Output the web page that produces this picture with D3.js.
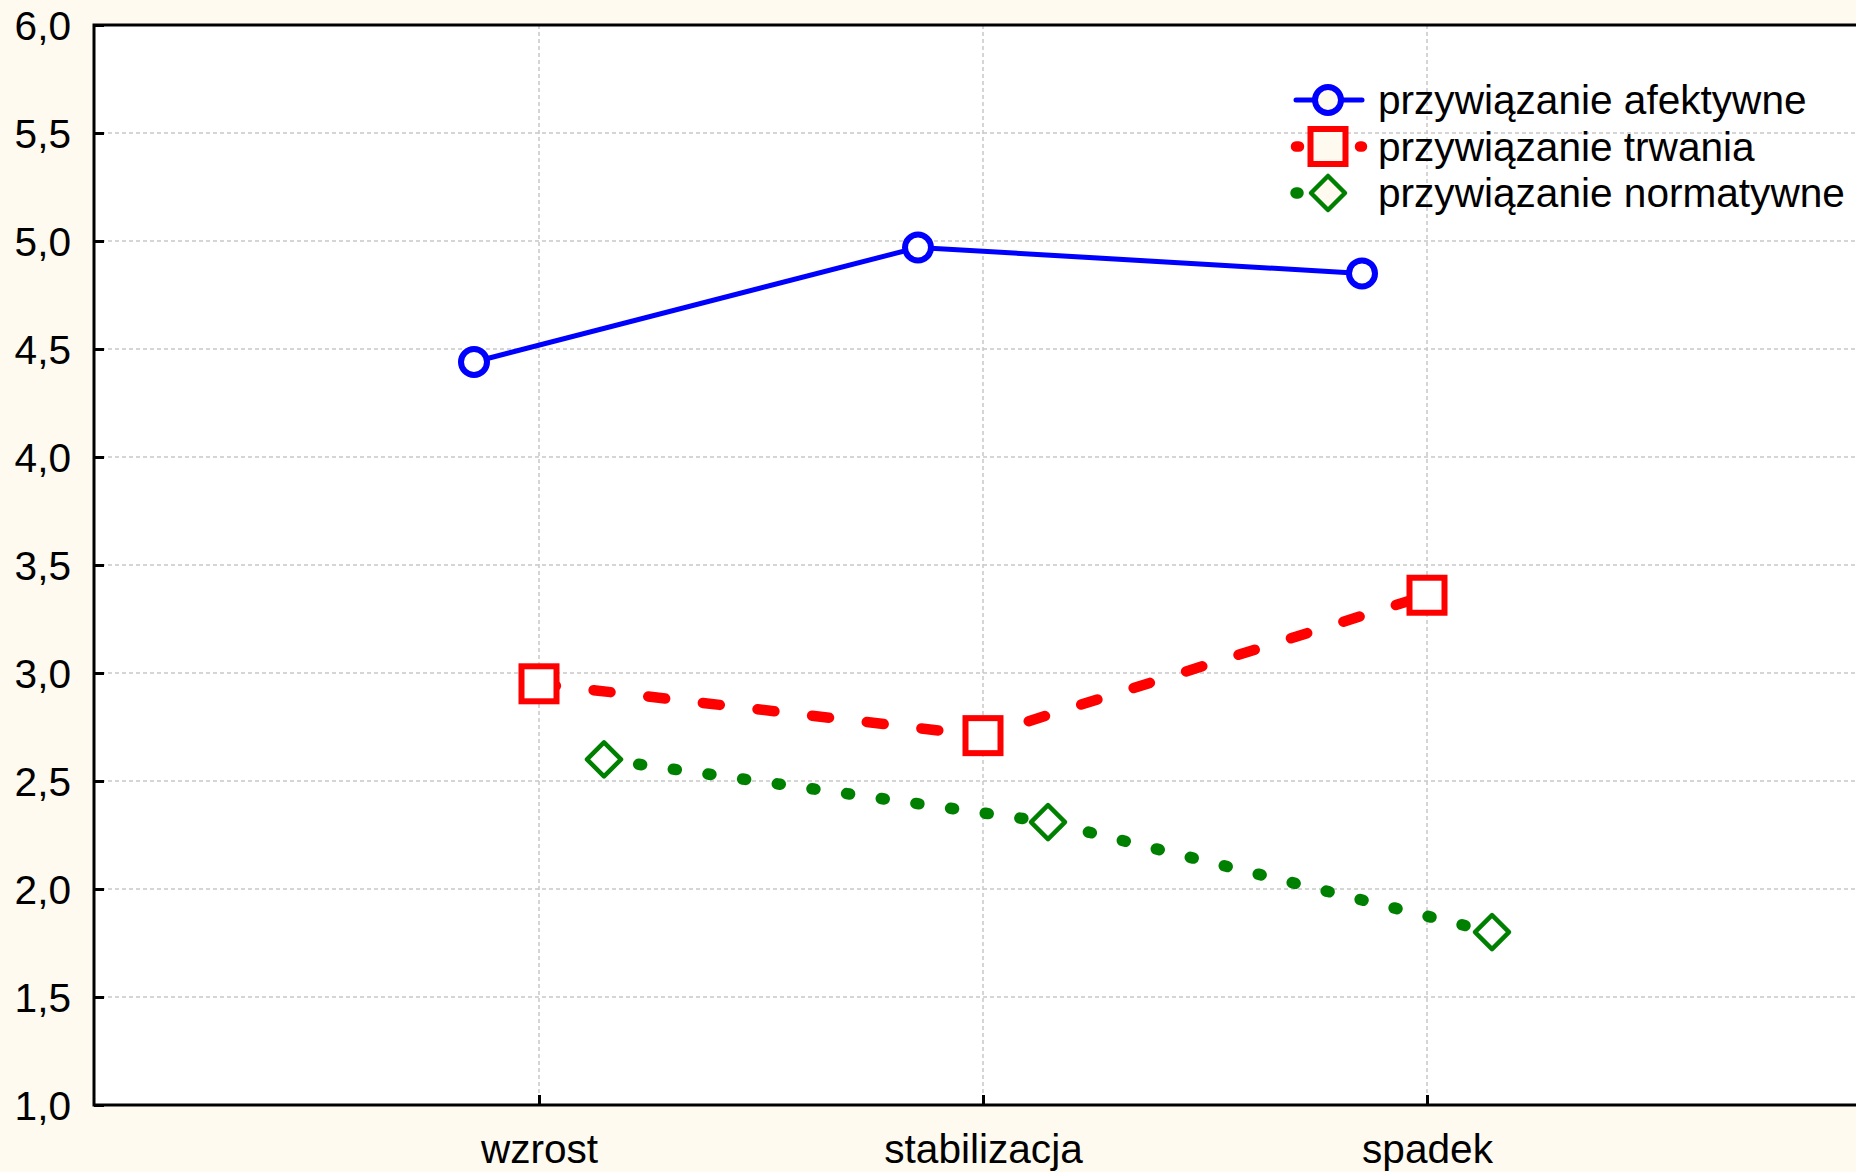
<!DOCTYPE html>
<html>
<head>
<meta charset="utf-8">
<script src="https://cdn.jsdelivr.net/npm/d3@7"></script>
<style>
  html, body { margin: 0; padding: 0; background: #fefaef; }
  svg { display: block; }
  text { font-family: "Liberation Sans", Arial, sans-serif; fill: #000; }
</style>
</head>
<body>
<div id="chart"></div>
<script>
// data
const categories = ['wzrost', 'stabilizacja', 'spadek'];
const seriesNames = ['przywiązanie afektywne', 'przywiązanie trwania', 'przywiązanie normatywne'];
const afektywne = [4.44, 4.97, 4.85];
const trwania = [2.95, 2.71, 3.36];
const normatywne = [2.60, 2.31, 1.80];
const yTicks = [1.0, 1.5, 2.0, 2.5, 3.0, 3.5, 4.0, 4.5, 5.0, 5.5, 6.0];

const series = [
  { name: seriesNames[0], values: afektywne, color: '#0000ff', width: 5, dash: null, marker: 'circle' },
  { name: seriesNames[1], values: trwania, color: '#ff0000', width: 10.5, dash: '17,38', marker: 'square' },
  { name: seriesNames[2], values: normatywne, color: '#008000', width: 11.5, dash: '3,32', marker: 'diamond' }
];

const W = 1856, H = 1172;
const plotLeft = 94, plotTop = 25, plotBottom = 1105;
const fontSize = '40.6px';

const svg = d3.select('#chart').append('svg')
  .attr('width', W).attr('height', H);

svg.append('rect').attr('width', W).attr('height', H).attr('fill', '#fefaef');
svg.append('rect').attr('x', plotLeft).attr('y', plotTop)
  .attr('width', W - plotLeft).attr('height', plotBottom - plotTop).attr('fill', '#ffffff');

const x = d3.scalePoint().domain(categories).range([539, 1427]);
const y = d3.scaleLinear().domain([1, 6]).range([plotBottom, plotTop]);
// series are dodged sideways around each category
const dodge = d3.scalePoint().domain(seriesNames).range([-65, 65]);

// grid
const grid = svg.append('g').attr('stroke', '#c8c8c8').attr('stroke-width', 1.5)
  .attr('stroke-dasharray', '4,3');
grid.selectAll('.hg').data(yTicks.slice(1, -1)).join('line')
  .attr('x1', plotLeft).attr('x2', W)
  .attr('y1', d => y(d)).attr('y2', d => y(d));
grid.selectAll('.vg').data(categories).join('line')
  .attr('x1', d => x(d)).attr('x2', d => x(d))
  .attr('y1', plotTop).attr('y2', plotBottom);

// axes
const yAxis = svg.append('g').attr('transform', `translate(${plotLeft},0)`)
  .call(d3.axisLeft(y).tickValues(yTicks).tickSize(-10).tickPadding(23)
    .tickFormat(d => d3.format('.1f')(d).replace('.', ',')));
yAxis.select('.domain').remove();
yAxis.selectAll('.tick line').attr('stroke', '#000').attr('stroke-width', 3);
yAxis.selectAll('.tick text').style('font-size', fontSize)
  .attr('font-family', null).attr('dy', '0.35em');

const xAxis = svg.append('g').attr('transform', `translate(0,${plotBottom})`)
  .call(d3.axisBottom(x).tickSize(-10).tickPadding(29));
xAxis.select('.domain').remove();
xAxis.selectAll('.tick line').attr('stroke', '#000').attr('stroke-width', 3);
xAxis.selectAll('.tick text').style('font-size', fontSize)
  .attr('font-family', null).attr('dy', '0.71em');

svg.append('path')
  .attr('d', `M${W},${plotTop}H${plotLeft}V${plotBottom}H${W}`)
  .attr('fill', 'none').attr('stroke', '#000').attr('stroke-width', 3);

// marker drawing
function drawMarker(g, type, color) {
  if (type === 'circle') {
    g.append('circle').attr('r', 13).attr('fill', 'currentColor')
      .attr('stroke', color).attr('stroke-width', 6);
  } else if (type === 'square') {
    g.append('rect').attr('x', -17.5).attr('y', -17.5).attr('width', 35).attr('height', 35)
      .attr('fill', 'currentColor').attr('stroke', color).attr('stroke-width', 6);
  } else {
    g.append('path').attr('d', 'M0,-17L17,0L0,17L-17,0Z')
      .attr('fill', 'currentColor').attr('stroke', color).attr('stroke-width', 4.5)
      .attr('stroke-linejoin', 'round');
  }
}

const line = d3.line().x(d => d[0]).y(d => d[1]);

series.forEach(s => {
  const pts = categories.map((c, i) => [x(c) + dodge(s.name), y(s.values[i])]);
  svg.append('path').attr('d', line(pts))
    .attr('fill', 'none').attr('stroke', s.color).attr('stroke-width', s.width)
    .attr('stroke-linecap', 'round').attr('stroke-dasharray', s.dash);
  pts.forEach(p => {
    const g = svg.append('g').attr('transform', `translate(${p[0]},${p[1]})`)
      .style('color', '#ffffff');
    drawMarker(g, s.marker, s.color);
  });
});

// legend
const legendY = d3.scalePoint().domain(seriesNames).range([100, 193]);
const legendDash = [null, '3,61', '2,100'];
series.forEach((s, i) => {
  const ly = legendY(s.name);
  svg.append('line').attr('x1', 1296).attr('x2', 1362).attr('y1', ly).attr('y2', ly)
    .attr('stroke', s.color).attr('stroke-width', s.width)
    .attr('stroke-linecap', 'round').attr('stroke-dasharray', legendDash[i]);
  const g = svg.append('g').attr('transform', `translate(1328,${ly})`)
    .style('color', '#fefaef');
  drawMarker(g, s.marker, s.color);
  svg.append('text').attr('x', 1378).attr('y', ly).attr('dy', '0.35em')
    .style('font-size', fontSize).text(s.name);
});
</script>
</body>
</html>
